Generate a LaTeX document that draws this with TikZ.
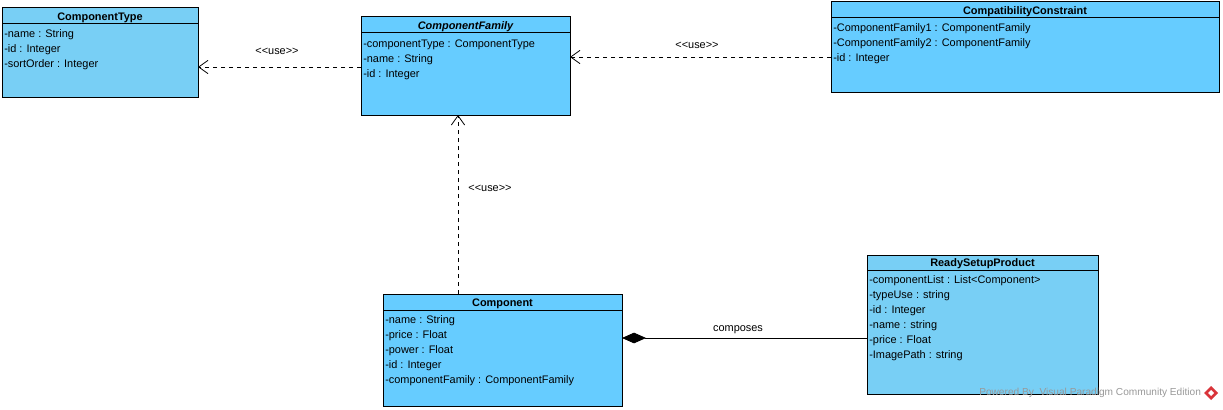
\documentclass[tikz,border=0pt]{standalone}
\usepackage{fontspec}
\setmainfont{Liberation Sans}
\usetikzlibrary{arrows.meta}
\definecolor{clsfill}{HTML}{66CCFF}
\definecolor{clsfillb}{HTML}{78CFF5}
\definecolor{wmgray}{HTML}{999999}
\definecolor{wmred}{HTML}{D9343A}
\begin{document}
\begin{tikzpicture}[x=0.75pt,y=-0.75pt,
  cls/.style={draw=black, line width=0.75pt, fill=clsfill, anchor=north west, inner sep=0pt, outer sep=0pt},
  ttl/.style={font=\fontsize{8.2}{9}\selectfont\bfseries, inner sep=0pt, yshift=-1pt},
  attr/.style={font=\fontsize{8.2}{9}\selectfont, anchor=west, inner sep=0pt, yshift=-1pt},
  sep/.style={line width=0.75pt},
  lbl/.style={font=\fontsize{8.2}{9}\selectfont, inner sep=0pt},
  dep/.style={dash pattern=on 3pt off 3pt, line width=0.6pt, -{Straight Barb[length=7pt,width=10pt,line width=0.6pt]}},
  compo/.style={line width=0.6pt, {Diamond[length=18pt,width=8pt]}-},
]
\useasboundingbox (0,0) rectangle (1223,410);
\fill[white] (0,0) rectangle (1223,410);

% ComponentType
\node[cls, fill=clsfillb, minimum width=147pt, minimum height=66.75pt] (ct) at (2,8) {};
\draw[sep] (ct.west |- 0,24) -- (ct.east |- 0,24);
\node[ttl] (ctT) at (ct.north |- 0,16) {ComponentType};
\node[attr] (ct1) at (4,33) {-name : String};
\node[attr] (ct2) at (4,48) {-id : Integer};
\node[attr] (ct3) at (4,63) {-sortOrder : Integer};

% ComponentFamily
\node[cls, minimum width=156.75pt, minimum height=73.5pt] (cf) at (361,17) {};
\draw[sep] (cf.west |- 0,33) -- (cf.east |- 0,33);
\node[ttl, font=\fontsize{8.2}{9}\selectfont\bfseries\itshape] (cfT) at (cf.north |- 0,25) {ComponentFamily};
\node[attr] (cf1) at (363,43) {-componentType : ComponentType};
\node[attr] (cf2) at (363,58) {-name : String};
\node[attr] (cf3) at (363,73) {-id : Integer};

% CompatibilityConstraint
\node[cls, minimum width=291pt, minimum height=67.5pt] (cc) at (831,2) {};
\draw[sep] (cc.west |- 0,18) -- (cc.east |- 0,18);
\node[ttl] (ccT) at (cc.north |- 0,10) {CompatibilityConstraint};
\node[attr] (cc1) at (833,27) {-ComponentFamily1 : ComponentFamily};
\node[attr] (cc2) at (833,42) {-ComponentFamily2 : ComponentFamily};
\node[attr] (cc3) at (833,57) {-id : Integer};

% Component
\node[cls, minimum width=179.25pt, minimum height=84pt] (cmp) at (383,294) {};
\draw[sep] (cmp.west |- 0,310) -- (cmp.east |- 0,310);
\node[ttl] (cmpT) at (cmp.north |- 0,302) {Component};
\node[attr] (cmp1) at (385,319) {-name : String};
\node[attr] (cmp2) at (385,334) {-price : Float};
\node[attr] (cmp3) at (385,349) {-power : Float};
\node[attr] (cmp4) at (385,364) {-id : Integer};
\node[attr] (cmp5) at (385,379) {-componentFamily : ComponentFamily};

% ReadySetupProduct
\node[cls, fill=clsfillb, minimum width=173.25pt, minimum height=104.25pt] (rsp) at (867,255) {};
\draw[sep] (rsp.west |- 0,270) -- (rsp.east |- 0,270);
\node[ttl] (rspT) at (rsp.north |- 0,262) {ReadySetupProduct};
\node[attr] (rsp1) at (869,279) {-componentList : List<Component>};
\node[attr] (rsp2) at (869,294) {-typeUse : string};
\node[attr] (rsp3) at (869,309) {-id : Integer};
\node[attr] (rsp4) at (869,324) {-name : string};
\node[attr] (rsp5) at (869,339) {-price : Float};
\node[attr] (rsp6) at (869,354) {-ImagePath : string};

% connectors
\draw[dep] (cf.west |- 0,67) -- (ct.east |- 0,67);
\node[lbl] (u1) at (277,51) {<\kern0pt<use>\kern0pt>};
\draw[dep] (cc.west |- 0,57) -- (cf.east |- 0,57);
\node[lbl] (u2) at (697,45) {<\kern0pt<use>\kern0pt>};
\draw[dep] (cmp.north -| 458,0) -- (cf.south -| 458,0);
\node[lbl] (u3) at (490,188) {<\kern0pt<use>\kern0pt>};
\draw[compo] (cmp.east |- 0,338) -- (rsp.west |- 0,338);
\node[lbl] (lc) at (738,330) {composes};

% watermark
\node[font=\fontsize{7.6}{9}\selectfont, text=wmgray, anchor=west, inner sep=0pt] (wm) at (979,393) {Powered By\ \ Visual Paradigm Community Edition};
\fill[wmred] (1211,386) -- (1218,393) -- (1211,400) -- (1204,393) -- cycle;
\fill[white] (1211,390) -- (1214,393) -- (1211,396) -- (1208,393) -- cycle;
\end{tikzpicture}
\end{document}
